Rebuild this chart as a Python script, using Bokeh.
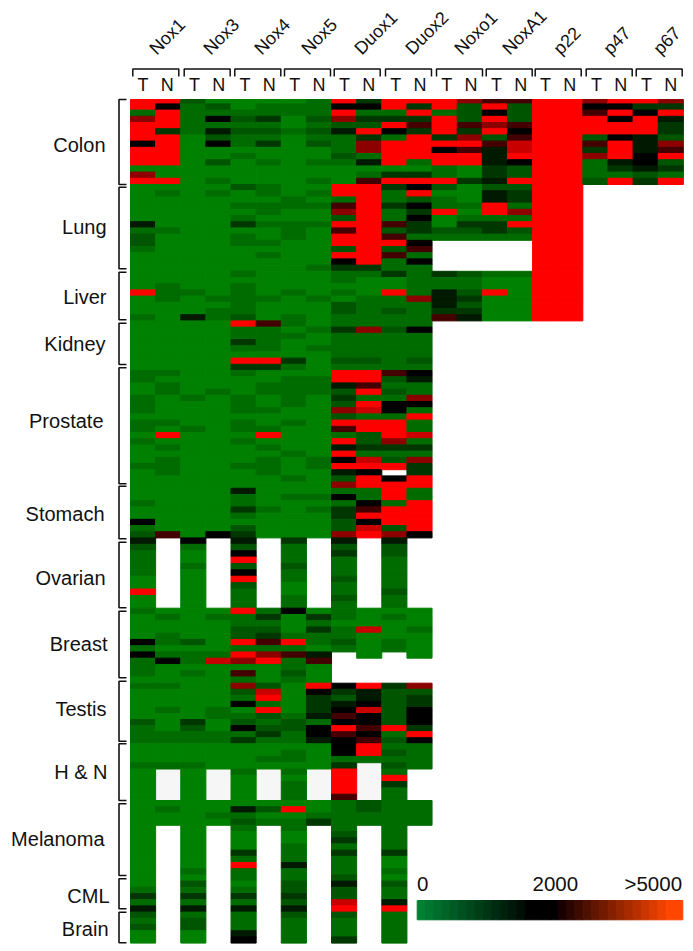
from bokeh.plotting import figure
from bokeh.models import Range1d, LinearColorMapper
from bokeh.transform import transform
from bokeh.core.properties import value
from bokeh.embed import file_html
from bokeh.resources import INLINE

GENES = ["Nox1", "Nox3", "Nox4", "Nox5", "Duox1", "Duox2", "Noxo1", "NoxA1", "p22", "p47", "p67"]
TISSUES = ["Colon", "Lung", "Liver", "Kidney", "Prostate", "Stomach", "Ovarian", "Breast",
           "Testis", "H & N", "Melanoma", "CML", "Brain"]

# expression, one string per column (T, N of each gene), one character per sample
# digit = level (see LEVEL_VALUES); "." = no sample (white); "," = no sample (pale grey)
LEVEL_VALUES = {"0": 0, "1": 320, "2": 680, "3": 1150, "4": 1600, "5": 2000, "6": 2800, "7": 3650, "8": 4350, "9": 5000}

Colon = ["99179995999079", "95999399999009", "21111100000000", "02151425002001",
         "00121211010000", "01131213001000", "01100100000000", "11121212001001",
         "95972411121000", "35132937714016", "99139519999039", "93936399991039",
         "99199939599119", "72226379699003", "69597926444334", "62226568895229",
         "99999999999999", "99999999999999", "75699926371112", "95959959994319",
         "93599944455423", "73943327692319"]
Lung = ["00000041221000", "01000001000000", "00000000000000", "01000000000000",
        "20010130110000", "11011010010100", "00110011100000", "01010010000001",
        "99167296992953", "99999999999993", "31131162692611", "59253533156151",
        "201190021.....", "000101321.....", "244991331.....", "233171921.....",
        "99999999999999", "99999999999999", "..............", "..............",
        "..............", ".............."]
Liver = ["00090001", "00111000", "00010004", "00001011",
         "10111112", "00001000", "00010001", "00001000",
         "11010221", "10001111", "30091121", "11117111",
         "31144436", "21123234", "10090000", "10000000",
         "99999999", "99999999", "........", "........",
         "........", "........"]
Kidney = ["0000000", "0000000", "0000000", "0000000",
          "9113109", "6111109", "1010003", "0100100",
          "1311112", "1711112", "1211111", "1511112",
          ".......", ".......", ".......", ".......",
          ".......", ".......", ".......", ".......",
          ".......", "......."]
Prostate = ["01100111011010001000", "01011000010901011100", "00000100001000000000", "00001000000000000000",
            "31000111011010001000", "30011001001901011100", "10111110010000100010", "00111000000000011000",
            "19942327296194959427", "19969198199223189599", "16212155199973129.59", "15411751911813173399",
            "....................", "....................", "....................", "....................",
            "....................", "....................", "....................", "....................",
            "....................", "...................."]
Stomach = ["00100512", "00000006", "00000000", "00000005",
           "41131023", "00010000", "01000000", "01010000",
           "15133227", "11569589", "99199927", "11999995",
           "........", "........", "........", "........",
           "........", "........", "........", "........",
           "........", "........"]
Ovarian = ["42111100900", "...........", "51001000000", "...........",
           "42592592111", "...........", "31112110011", "...........",
           "42311121121", "...........", "42211111211", "...........",
           "...........", "...........", "...........", "...........",
           "...........", "...........", "...........", "...........",
           "...........", "..........."]
Breast = ["100005151110", "010011015000", "000002011010", "010000018000",
          "911229197061", "131236179000", "500019161121", "031311046000",
          "1101121.....", "00080000....", "0100011.....", "00010000....",
          "............", "............", "............", "............",
          "............", "............", "............", "............",
          "............", "............"]
Testis = ["1000002111", "1000100011", "0000003211", "0000110011",
          "7215012513", "2891921231", "0000012211", "9533341554",
          "5324565965", "9445855656", "3222222912", "7233555395",
          "..........", "..........", "..........", "..........",
          "..........", "..........", "..........", "..........",
          "..........", ".........."]
HeadNeck = ["000100000", "0001,,,,,", "000100000", "0000,,,,,",
            "000010000", "0010,,,,,", "011010111", "0000,,,,,",
            "551399996", "991,,,,,,", "121219311", "1111.....",
            ".........", ".........", ".........", ".........",
            ".........", ".........", ".........", ".........",
            ".........", "........."]
Melanoma = ["000000000000", "0100........", "000000000001", "0010........",
            "041210003191", "0201........", "090110011141", "0013........",
            "111112313111", "2211........", "111111113001", "1111........",
            "............", "............", "............", "............",
            "............", "............", "............", "............",
            "............", "............"]
CML = ["001314", "......", "021314", "......",
       "101314", "......", "122324", "......",
       "242289", "......", "021149", "......",
       "......", "......", "......", "......",
       "......", "......", "......", "......",
       "......", "......"]
Brain = ["21200", ".....", "12200", ".....",
         "11145", ".....", "21111", ".....",
         "21113", ".....", "11111", ".....",
         ".....", ".....", ".....", ".....",
         ".....", ".....", ".....", ".....",
         ".....", "....."]
GROUPS = [Colon, Lung, Liver, Kidney, Prostate, Stomach, Ovarian, Breast, Testis, HeadNeck, Melanoma, CML, Brain]

LEGEND_LABELS = ["0", "2000", ">5000"]

# layout, in page pixels
GROUP_EDGES = [97.2, 184.0, 270.8, 320.4, 363.8, 487.8, 537.4, 607.7, 682.7, 743.3, 800.0, 874.4, 911.6, 942.6]
HEAT_TOP = 99.0
HEAT_LEFT, COL_W = 130.0, 25.13
BRACKETS_Y = [(99, 184), (186.7, 268.3), (271.7, 319.3), (322.7, 364), (367.3, 483.3), (485.7, 538.3),
              (541.7, 607.3), (610.7, 677.3), (680.7, 740.7), (743.3, 800), (803.3, 875), (878.3, 908.3), (911.7, 942.3)]
LABEL_RIGHT = [105, 106, 106, 105, 103, 104, 105, 107, 106, 107, 104, 109, 108]
LABEL_Y = [144, 226, 296, 343, 420, 513, 577, 643, 708, 771, 838, 895, 928]
GENE_BRACKET_X = [132.3, 183.7, 234.3, 284.0, 333.7, 385.0, 436.0, 485.7, 534.7, 585.7, 635.7]
GENE_TEXT_X = [159, 213, 264, 311, 364, 415, 464, 512, 563, 613, 663]

FONT = value("Liberation Sans")


def lerp(a, b, t):
    return tuple(int(round(a[i] + (b[i] - a[i]) * t)) for i in range(3))


def to_hex(c):
    return "#%02x%02x%02x" % c


palette = []
for k in range(256):
    v = k / 255 * 5000
    if v <= 2000:
        palette.append(to_hex(lerp((0, 128, 0), (0, 0, 0), v / 2000)))
    else:
        palette.append(to_hex(lerp((0, 0, 0), (255, 0, 0), (v - 2000) / 3000)))
mapper = LinearColorMapper(palette=palette, low=0, high=5000)

left, right, top, bottom, vals = [], [], [], [], []
gl, gr, gt, gb = [], [], [], []
for g, cols in enumerate(GROUPS):
    y0, y1 = GROUP_EDGES[g], GROUP_EDGES[g + 1]
    for c, column in enumerate(cols):
        h = (y1 - y0) / len(column)
        for r, ch in enumerate(column):
            if ch == ".":
                continue
            x0 = HEAT_LEFT + c * COL_W
            t, b = max(y0 + r * h, HEAT_TOP), y0 + (r + 1) * h
            if ch == ",":
                gl.append(x0); gr.append(x0 + COL_W); gt.append(t); gb.append(b)
            else:
                left.append(x0); right.append(x0 + COL_W); top.append(t); bottom.append(b)
                vals.append(LEVEL_VALUES[ch])

p = figure(width=690, height=945, x_range=Range1d(0, 690), y_range=Range1d(945, 0),
           output_backend="svg", toolbar_location=None, x_axis_location=None, y_axis_location=None,
           min_border=0, outline_line_color=None, background_fill_color="white", border_fill_color="white")
p.grid.visible = False

p.quad(left=gl, right=gr, top=gt, bottom=gb, fill_color="#f6f6f6", line_color="#f6f6f6", line_width=1)
src = dict(left=left, right=right, top=top, bottom=bottom, v=vals)
p.quad(left="left", right="right", top="top", bottom="bottom", source=src,
       fill_color=transform("v", mapper), line_color=transform("v", mapper), line_width=1)

# left brackets and labels
for (a, b) in BRACKETS_Y:
    p.line([126, 118.5, 118.5, 126], [a, a, b, b], line_color="#111111", line_width=1.6)
p.text(x=LABEL_RIGHT, y=LABEL_Y, text=TISSUES, text_font=FONT, text_font_size="20px",
       text_align="right", text_baseline="middle", text_color="#111111")

# top brackets, T / N and gene names
for x in GENE_BRACKET_X:
    p.line([x, x, x + 46, x + 46], [76, 68.5, 68.5, 76], line_color="#111111", line_width=1.5)
p.text(x=[x + 10.3 for x in GENE_BRACKET_X], y=[84] * 11, text=["T"] * 11, text_font=FONT, text_font_size="18px",
       text_align="center", text_baseline="middle", text_color="#111111")
p.text(x=[x + 34.5 for x in GENE_BRACKET_X], y=[84] * 11, text=["N"] * 11, text_font=FONT, text_font_size="18px",
       text_align="center", text_baseline="middle", text_color="#111111")
p.text(x=GENE_TEXT_X, y=[58] * 11, text=GENES, angle=45, angle_units="deg", text_font=FONT, text_font_size="18px",
       text_align="left", text_baseline="bottom", text_color="#111111")

# colour key
key_x0, key_x1 = 416.7, 682.3
n_key = 32
key_cols = []
for i in range(n_key):
    if i < 13:
        key_cols.append(to_hex(lerp((0, 128, 50), (0, 15, 5), i / 12)))
    elif i < 17:
        key_cols.append("#000000")
    else:
        key_cols.append(to_hex(lerp((25, 0, 0), (255, 70, 0), (i - 17) / 13 if i < 30 else 1)))
kw = (key_x1 - key_x0) / n_key
p.quad(left=[key_x0 + i * kw for i in range(n_key)], right=[key_x0 + (i + 1) * kw for i in range(n_key)],
       top=[900] * n_key, bottom=[919.3] * n_key, fill_color=key_cols, line_color=key_cols, line_width=1)
p.text(x=[416.5, 532, 624], y=[883] * 3, text=LEGEND_LABELS, text_font=FONT, text_font_size="20.5px",
       text_align="left", text_baseline="middle", text_color="#111111")

open("out.html", "w").write(file_html(p, INLINE))
